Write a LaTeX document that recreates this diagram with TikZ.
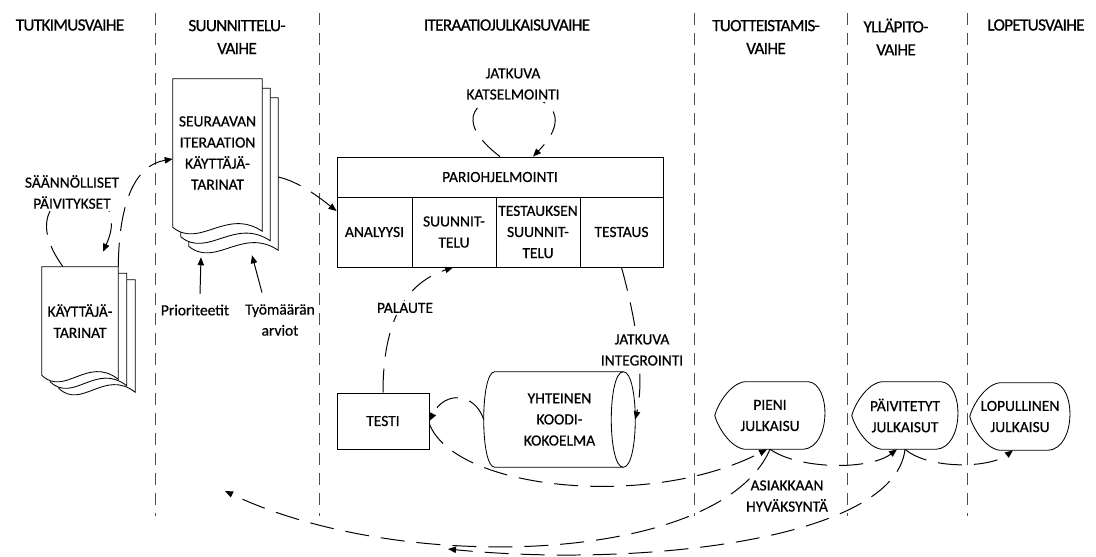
\documentclass[tikz,border=0pt]{standalone}
\usepackage{fontspec}
\setmainfont{Carlito}[FakeBold=0.6]
\usetikzlibrary{arrows.meta, calc, backgrounds}
\newcommand{\pxu}{0.25mm}
\tikzset{
  phase/.style={font=\fontsize{12.2}{16.3}\selectfont\addfontfeature{LetterSpace=-4}, align=center, inner sep=1pt},
  txt/.style={font=\fontsize{11}{15}\selectfont, align=center, inner sep=1pt},
  lbl/.style={txt, fill=white, inner sep=1.5pt},
  cell/.style={txt, draw, line width=0.6pt, inner sep=0pt},
  shp/.style={draw, line width=0.6pt, fill=white},
  divider/.style={black!70, line width=0.6pt, dash pattern=on 3mm off 2mm},
  flow/.style={-{Triangle[length=2mm,width=1.6mm]}, line width=0.7pt, dash pattern=on 6mm off 3mm},
  arr/.style={-{Triangle[length=2mm,width=1.6mm]}, line width=0.7pt}
}

\begin{document}
\begin{tikzpicture}[x=\pxu, y=-\pxu]
  \useasboundingbox (0,0) rectangle (1096,556);
  \foreach \x in {155,319,694,847,967}
    \draw[divider] (\x,13) -- (\x,516);

  \node[phase] (tut) at (70,25) {TUTKIMUSVAIHE};
  \node[phase] (suu) at (237,37) {SUUNNITTELU-\\VAIHE};
  \node[phase] (ite) at (507,25) {ITERAATIOJULKAISUVAIHE};
  \node[phase] (tuo) at (766,37) {TUOTTEISTAMIS-\\VAIHE};
  \node[phase] (yll) at (896,37) {YLLÄPITO-\\VAIHE};
  \node[phase] (lop) at (1036,25) {LOPETUSVAIHE};

  \node[txt, minimum width=76*\pxu, minimum height=108*\pxu] (kt) at (80,321) {KÄYTTÄJÄ-\\TARINAT};
  \node[txt, minimum width=89*\pxu, minimum height=148*\pxu] (sit) at (217.5,153) {SEURAAVAN\\ITERAATION\\KÄYTTÄJÄ-\\TARINAT};
  \node[cell, minimum width=326*\pxu, minimum height=40*\pxu] (pari) at (500,177) {PARIOHJELMOINTI};
  \node[cell, minimum width=75*\pxu, minimum height=70*\pxu] (ana) at (374.5,232) {ANALYYSI};
  \node[cell, minimum width=84*\pxu, minimum height=70*\pxu] (suun) at (454,232) {SUUNNIT-\\TELU};
  \node[cell, minimum width=84*\pxu, minimum height=70*\pxu] (tsuun) at (538,232) {TESTAUKSEN\\SUUNNIT-\\TELU};
  \node[cell, minimum width=83*\pxu, minimum height=70*\pxu] (testaus) at (621.5,232) {TESTAUS};
  \node[cell, minimum width=92*\pxu, minimum height=56*\pxu] (testi) at (383,421) {TESTI};
  \node[txt, minimum width=151*\pxu, minimum height=95*\pxu] (koodi) at (559.5,419.5) {YHTEINEN\\KOODI-\\KOKOELMA};
  \node[txt, minimum width=110*\pxu, minimum height=67*\pxu] (pieni) at (770,415.5) {PIENI\\JULKAISU};
  \node[txt, minimum width=106*\pxu, minimum height=67*\pxu] (paiv) at (905,415.5) {PÄIVITETYT\\JULKAISUT};
  \node[txt, minimum width=100*\pxu, minimum height=67*\pxu] (lopu) at (1020,416.5) {LOPULLINEN\\JULKAISU};
  \node[txt] (prio) at (195,310) {Prioriteetit};
  \node[txt] (tyo) at (280,320) {Työmäärän\\arviot};
  \coordinate (back1) at (225,491);
  \coordinate (back2) at (448,549);

  \begin{scope}[on background layer]
    \foreach \n/\dx/\dy in {kt/8.5/6.5, sit/8/9.5}
      \foreach \k in {2,1,0}
        \draw[shp] ($(\n.north west)+(\k*\dx,\k*\dy)$) -- ($(\n.north east)+(\k*\dx,\k*\dy)$)
          -- ($(\n.south east)+(\k*\dx,\k*\dy+4)$)
          .. controls ($(\n.south west)!.6!(\n.south east)+(\k*\dx,\k*\dy-20)$)
          and ($(\n.south west)!.3!(\n.south east)+(\k*\dx,\k*\dy+22)$)
          .. ($(\n.south west)+(\k*\dx,\k*\dy)$) -- cycle;
    \draw[shp] ([shift={(11,0)}]koodi.north west) -- ([shift={(-12,0)}]koodi.north east)
      .. controls ([shift={(4,0)}]koodi.north east) and ([shift={(4,0)}]koodi.south east) .. ([shift={(-12,0)}]koodi.south east)
      -- ([shift={(11,0)}]koodi.south west)
      .. controls ([shift={(-3.7,0)}]koodi.south west) and ([shift={(-3.7,0)}]koodi.north west) .. cycle;
    \draw[shp, fill=none] ([shift={(-12,0)}]koodi.north east)
      .. controls ([shift={(-28,0)}]koodi.north east) and ([shift={(-28,0)}]koodi.south east) .. ([shift={(-12,0)}]koodi.south east);
    \foreach \n in {pieni,paiv,lopu}
      \draw[shp] ([shift={(30,0)}]\n.north west) -- ([shift={(-17,0)}]\n.north east)
        .. controls ([shift={(6,2)}]\n.north east) and ([shift={(6,-2)}]\n.south east) .. ([shift={(-22,0)}]\n.south east)
        -- ([shift={(30,0)}]\n.south west)
        .. controls ([shift={(15,-2)}]\n.south west) and ([shift={(3,11)}]\n.west) .. (\n.west)
        .. controls ([shift={(3,-11)}]\n.west) and ([shift={(15,2)}]\n.north west) .. cycle;
  \end{scope}

  \draw[flow] ([shift={(-17,0)}]kt.north) .. controls (0,180) and (140,170) .. ([shift={(23,-15)}]kt.north);
  \draw[flow] (kt.north east) .. controls (119,200) and (136,165) .. ([shift={(0,6)}]sit.west);
  \draw[flow] ([shift={(16,24)}]sit.east) .. controls (300,182) and (320,198) .. ([shift={(0,-21)}]ana.west);
  \draw[arr] ([shift={(5,-9)}]prio.north) -- ([shift={(-16.5,30)}]sit.south);
  \draw[arr] ([shift={(-18,-10)}]tyo.north) -- ([shift={(34.5,28)}]sit.south);
  \draw[flow] (pari.north) .. controls (400,80) and (615,72) .. ([shift={(33,0)}]pari.north);
  \draw[flow] (testi.north) .. controls (383,330) and (400,285) .. ([shift={(-1,0)}]suun.south);
  \draw[flow] (testaus.south) .. controls (636,320) and (645,375) .. (koodi.east);
  \draw[flow] (koodi.west) .. controls (475,393) and (445,390) .. (testi.east);
  \draw[flow] ([shift={(0,3)}]testi.east) .. controls (455,490) and (650,510) .. ([shift={(-3,0)}]pieni.south);
  \draw[flow] (pieni.south) .. controls (800,470) and (870,470) .. ([shift={(-8,0)}]paiv.south);
  \draw[flow] (paiv.south) .. controls (930,470) and (990,468) .. ([shift={(-7,0)}]lopu.south);
  \draw[flow] (pieni.south) .. controls (720,565) and (400,575) .. (back1);
  \draw[flow] (paiv.south) .. controls (895,540) and (640,568) .. (back2);

  \node[lbl] (saan) at (72,192) {SÄÄNNÖLLISET\\PÄIVITYKSET};
  \node[lbl] (katsel) at (513,84) {JATKUVA\\KATSELMOINTI};
  \node[lbl] (palaute) at (405,308) {PALAUTE};
  \node[lbl] (integ) at (642,350) {JATKUVA\\INTEGROINTI};
  \node[txt] (asiak) at (787,496) {ASIAKKAAN\\HYVÄKSYNTÄ};
\end{tikzpicture}
\end{document}
